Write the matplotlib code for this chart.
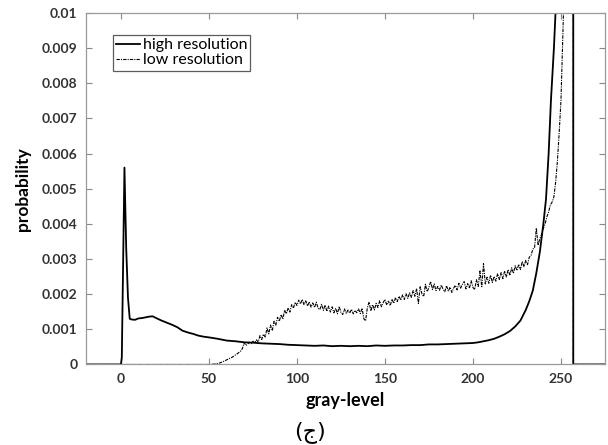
import matplotlib.pyplot as plt

# high resolution histogram (gray level -> probability)
high_x = [-20, 0, 0.5, 2, 3, 4, 5, 6, 8, 10, 12, 14, 16, 18, 20, 23, 26, 29, 32, 35,
          38, 41, 44, 47, 50, 55, 60, 65, 70, 75, 80, 85, 90, 95, 100, 105, 110, 115,
          120, 125, 130, 135, 140, 145, 150, 155, 160, 165, 170, 175, 180, 185, 190,
          195, 200, 203, 206, 209, 212, 215, 218, 221, 224, 227, 230, 232, 234, 236,
          238, 240, 241.5, 243, 244.3, 246, 247, 248, 250, 252, 254, 256, 257, 257, 275]
high_y = [0, 0, 0.0002, 0.0056, 0.0033, 0.0019, 0.0013, 0.00128, 0.00127, 0.00131,
          0.00132, 0.00134, 0.00136, 0.00137, 0.00132, 0.00125, 0.00119, 0.00113,
          0.00106, 0.00096, 0.00091, 0.00087, 0.00082, 0.00079, 0.00077, 0.00073,
          0.00068, 0.00066, 0.00063, 0.00062, 0.0006, 0.00059, 0.00058, 0.00056,
          0.00055, 0.00054, 0.00053, 0.00054, 0.00052, 0.00053, 0.00052, 0.00053,
          0.00052, 0.00054, 0.00053, 0.00054, 0.00054, 0.00055, 0.00055, 0.00057,
          0.00057, 0.00058, 0.00059, 0.0006, 0.00061, 0.00063, 0.00066, 0.00069,
          0.00073, 0.00079, 0.00086, 0.00095, 0.00108, 0.00125, 0.00155, 0.0018,
          0.0021, 0.0026, 0.0032, 0.004, 0.0047, 0.006, 0.0075, 0.009, 0.0101, 0.012,
          0.016, 0.02, 0.025, 0.03, 0.03, 0, 0]

# low resolution histogram, values x1e-4 for gray levels 50..257
low_x = [-20, 0] + list(range(50, 258)) + [257, 275]
low_vals = [0, 0, 0.1, 0.1, 0.2,
            0.3, 0.4, 0.6, 0.8, 1.0,
            1.3, 1.5, 1.8, 2.0, 2.3,
            2.7, 3.0, 3.4, 3.8, 4.5,
            6.2, 5.4, 5.8, 6.3, 5.9,
            6.6, 6.1, 7.0, 6.4, 8.2,
            7.1, 8.6, 7.8, 10.4, 8.7,
            11.2, 9.6, 12.3, 11.2, 13.4,
            12.3, 14.2, 12.9, 15.4, 14.4,
            16.1, 14.9, 17.0, 16.0, 17.7,
            16.8, 18.3, 17.2, 18.5, 17.0,
            18.1, 16.6, 17.8, 16.3, 17.5,
            16.2, 17.7, 16.0, 15.6, 17.1,
            15.4, 16.9, 15.1, 16.6, 14.9,
            16.4, 14.7, 16.0, 14.4, 16.5,
            14.8, 14.2, 15.8, 14.5, 15.5,
            14.6, 15.7, 14.4, 15.4, 14.7,
            15.8, 14.5, 16.0, 13.0, 12.4,
            16.1, 17.8, 15.2, 17.0, 15.5,
            17.4, 16.2, 18.1, 16.4, 17.6,
            18.5, 16.9, 18.0, 16.7, 18.6,
            17.4, 19.0, 17.9, 19.4, 18.3,
            19.8, 18.5, 20.1, 18.8, 20.4,
            19.1, 21.0, 19.4, 21.6, 17.3,
            22.1, 20.1, 19.3, 22.8, 20.7,
            22.0, 23.6, 21.3, 22.9, 21.0,
            22.2, 21.1, 22.6, 21.4, 20.7,
            22.4, 20.8, 22.0, 20.5, 21.7,
            22.5, 21.2, 23.1, 21.7, 22.8,
            23.6, 21.5, 23.0, 21.7, 23.8,
            21.9, 21.3, 24.1, 22.2, 26.6,
            22.1, 28.7, 22.9, 24.8, 23.1,
            25.4, 23.3, 25.0, 23.7, 25.8,
            24.2, 26.1, 24.4, 26.6, 24.9,
            27.0, 25.3, 27.5, 25.9, 28.1,
            26.7, 28.5, 27.0, 29.3, 27.8,
            29.6, 28.4, 30.5, 31.0, 32.8,
            33.2, 38.8, 33.9, 35.8, 37.0,
            38.7, 40.0, 42.0, 43.4, 45.4,
            46.2, 47.7, 52.0, 58.0, 66.0,
            75.0, 92.0, 110.0, 150.0, 200.0,
            250.0, 300.0, 300.0]
low_y = [0, 0] + [v * 1e-4 for v in low_vals] + [0, 0]

xticks = [0, 50, 100, 150, 200, 250]
yticks = [0, 0.001, 0.002, 0.003, 0.004, 0.005, 0.006, 0.007, 0.008, 0.009, 0.01]
ytick_labels = ["0", "0.001", "0.002", "0.003", "0.004", "0.005", "0.006",
                "0.007", "0.008", "0.009", "0.01"]

plt.rcParams['font.family'] = ['Lato', 'DejaVu Sans']

fig = plt.figure(figsize=(6.08, 4.45), dpi=100)
ax = fig.add_axes([0.141, 0.181, 0.854, 0.790])

ax.plot(high_x, high_y, color='black', lw=1.3, label='high resolution')
ax.plot(low_x, low_y, color='black', lw=0.8, linestyle=(0, (3, 1, 1, 1)),
        label='low resolution')

ax.set_xlim(-20, 275)
ax.set_ylim(0, 0.01)
ax.set_xticks(xticks)
ax.set_yticks(yticks)
ax.set_yticklabels(ytick_labels)
ax.tick_params(direction='in', top=True, right=True, length=4, color='#888888',
               labelsize=10, labelcolor='#333333', pad=6)
for lab in ax.get_xticklabels() + ax.get_yticklabels():
    lab.set_fontweight('bold')
for s in ax.spines.values():
    s.set_color('#999999')
    s.set_linewidth(0.9)

ax.set_xlabel('gray-level', fontsize=13, fontweight='bold', labelpad=5)
ax.set_ylabel('probability', fontsize=12.5, fontweight='bold', labelpad=8)

leg = ax.legend(loc='upper left', bbox_to_anchor=(0.053, 0.937), fontsize=11.5,
                frameon=True, fancybox=False, handlelength=1.5, handletextpad=0.15,
                borderpad=0.2, labelspacing=0.05, borderaxespad=0)
leg.get_frame().set_edgecolor('#333333')
leg.get_frame().set_linewidth(0.9)

fig.text(0.51, 0.03, '(ج)', ha='center', va='center', fontsize=16,
         family=['DejaVu Sans'])

fig.savefig('out.png', dpi=100)
plt.close(fig)
